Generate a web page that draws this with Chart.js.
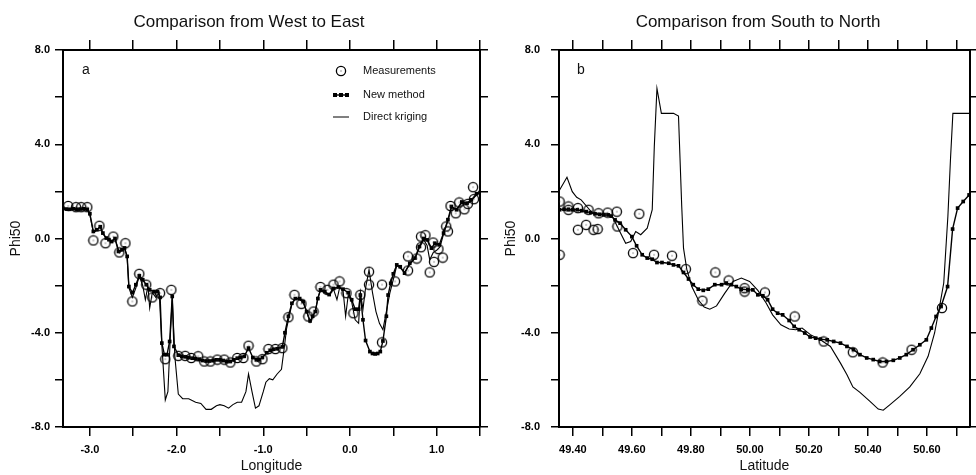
<!DOCTYPE html>
<html>
<head>
<meta charset="utf-8">
<script src="https://cdn.jsdelivr.net/npm/chart.js@4.4.1/dist/chart.umd.min.js"></script>
<style>
  body { margin: 0; background: #fff; }
  #wrap { position: relative; width: 976px; height: 475px; }
  canvas { position: absolute; top: 0; }
</style>
</head>
<body>
<div id="wrap">
  <canvas id="chartA" width="490" height="475" style="left:0"></canvas>
  <canvas id="chartB" width="486" height="475" style="left:490px"></canvas>
</div>
<script>
// ---- panel a : West to East ----
const lonTicks = [-3.0, -2.5, -2.0, -1.5, -1.0, -0.5, 0.0, 0.5, 1.0, 1.5];
const phiTicks = [-8, -6, -4, -2, 0, 2, 4, 6, 8];

const measLonA = [
  -3.25, -3.16, -3.10, -3.03, -2.96, -2.89, -2.82, -2.73, -2.66, -2.59,
  -2.51, -2.43, -2.35, -2.28, -2.19, -2.13, -2.06, -1.98, -1.90, -1.83,
  -1.75, -1.68, -1.61, -1.53, -1.45, -1.38, -1.30, -1.23, -1.17, -1.08,
  -1.01, -0.94, -0.86, -0.78, -0.71, -0.64, -0.56, -0.48, -0.42, -0.34,
  -0.26, -0.19, -0.12, -0.04, 0.04, 0.12, 0.22, 0.22, 0.37, 0.37,
  0.52, 0.67, 0.67, 0.77, 0.82, 0.82, 0.87, 0.92, 0.96, 0.97,
  1.02, 1.07, 1.11, 1.13, 1.16, 1.22, 1.26, 1.32, 1.36, 1.42,
  1.43
];
const measValA = [
  1.38, 1.33, 1.33, 1.33, -0.08, 0.54, -0.20, 0.08, -0.59, -0.20,
  -2.67, -1.50, -1.96, -2.50, -2.32, -5.12, -2.18, -4.98, -4.98, -5.07,
  -5.00, -5.22, -5.22, -5.14, -5.14, -5.26, -5.07, -5.07, -4.55, -5.22,
  -5.12, -4.69, -4.69, -4.65, -3.34, -2.39, -2.77, -3.31, -3.10, -2.06,
  -2.18, -1.96, -1.82, -2.32, -3.17, -2.39, -1.41, -1.96, -1.96, -4.41,
  -1.82, -0.76, -1.36, -0.85, 0.08, -0.37, 0.14, -1.44, -0.17, -0.99,
  -0.45, -0.81, 0.51, 0.30, 1.38, 1.07, 1.53, 1.24, 1.47, 2.18,
  1.67
];

const newLonA = [
  -3.31, -3.27, -3.23, -3.19, -3.15, -3.11, -3.07, -3.03, -3.00, -2.96,
  -2.92, -2.88, -2.85, -2.81, -2.78, -2.75, -2.71, -2.67, -2.63, -2.60,
  -2.57, -2.55, -2.51, -2.47, -2.43, -2.39, -2.35, -2.31, -2.26, -2.22,
  -2.19, -2.17, -2.14, -2.11, -2.08, -2.05, -2.03, -1.98, -1.94, -1.90,
  -1.86, -1.82, -1.78, -1.74, -1.70, -1.66, -1.62, -1.58, -1.54, -1.50,
  -1.46, -1.42, -1.38, -1.34, -1.30, -1.26, -1.22, -1.17, -1.12, -1.08,
  -1.05, -1.01, -0.96, -0.92, -0.88, -0.84, -0.78, -0.75, -0.71, -0.67,
  -0.63, -0.58, -0.54, -0.50, -0.46, -0.43, -0.40, -0.37, -0.34, -0.29,
  -0.24, -0.19, -0.13, -0.08, -0.02, 0.02, 0.06, 0.10, 0.12, 0.15,
  0.18, 0.23, 0.26, 0.29, 0.32, 0.35, 0.38, 0.42, 0.44, 0.47,
  0.50, 0.54, 0.58, 0.63, 0.69, 0.75, 0.80, 0.85, 0.89, 0.94,
  0.98, 1.03, 1.08, 1.13, 1.17, 1.23, 1.29, 1.35, 1.40, 1.46,
  1.50
];
const newValA = [
  1.28, 1.25, 1.24, 1.26, 1.24, 1.25, 1.26, 1.24, 1.05, 0.30,
  0.37, 0.50, 0.23, 0.02, -0.05, -0.13, 0.00, -0.55, -0.48, -0.40,
  -0.76, -2.04, -2.30, -1.96, -1.58, -1.75, -1.96, -2.18, -2.25, -2.25,
  -2.50, -4.44, -4.93, -4.93, -4.37, -2.46, -4.58, -4.95, -5.00, -5.02,
  -5.05, -5.08, -5.10, -5.12, -5.18, -5.20, -5.20, -5.18, -5.15, -5.15,
  -5.18, -5.22, -5.22, -5.15, -5.08, -5.05, -5.00, -4.65, -5.05, -5.15,
  -5.15, -5.05, -4.85, -4.75, -4.70, -4.68, -4.60, -4.00, -3.30, -2.75,
  -2.55, -2.55, -2.68, -3.10, -3.50, -3.30, -3.10, -2.55, -2.18, -2.25,
  -2.38, -2.12, -2.06, -2.15, -2.30, -2.60, -3.00, -3.00, -2.40, -3.45,
  -4.33, -4.80, -4.88, -4.90, -4.88, -4.80, -4.35, -3.30, -2.40, -1.90,
  -1.50, -1.12, -1.20, -1.47, -1.05, -0.83, -0.34, 0.00, -0.06, -0.41,
  -0.20, -0.27, 0.23, 0.80, 1.36, 1.22, 1.55, 1.50, 1.64, 1.90,
  1.95
];

const krigLonA = [
  -3.31, -3.03, -3.00, -2.96, -2.92, -2.88, -2.85, -2.81, -2.75, -2.71,
  -2.66, -2.60, -2.57, -2.55, -2.51, -2.47, -2.43, -2.39, -2.36, -2.33,
  -2.31, -2.28, -2.24, -2.20, -2.17, -2.13, -2.10, -2.07, -2.05, -2.02,
  -1.98, -1.93, -1.86, -1.78, -1.72, -1.66, -1.60, -1.54, -1.50, -1.45,
  -1.40, -1.35, -1.30, -1.25, -1.20, -1.17, -1.13, -1.09, -1.05, -1.00,
  -0.97, -0.93, -0.89, -0.84, -0.79, -0.76, -0.73, -0.70, -0.67, -0.63,
  -0.58, -0.54, -0.50, -0.46, -0.43, -0.40, -0.37, -0.34, -0.29, -0.24,
  -0.19, -0.15, -0.12, -0.08, -0.05, -0.02, 0.02, 0.06, 0.10, 0.12,
  0.15, 0.18, 0.22, 0.26, 0.30, 0.34, 0.38, 0.42, 0.46, 0.50,
  0.54, 0.58, 0.63, 0.69, 0.75, 0.80, 0.85, 0.89, 0.92, 0.96,
  1.00, 1.04, 1.08, 1.13, 1.17, 1.23, 1.29, 1.35, 1.40, 1.46, 1.50
];
const krigValA = [
  1.25, 1.25, 1.00, 0.25, 0.35, 0.50, 0.20, 0.00, -0.10, 0.00,
  -0.60, -0.40, -0.80, -2.10, -2.50, -2.10, -1.60, -2.00, -2.60, -2.00,
  -2.95, -2.30, -2.50, -2.30, -4.50, -6.85, -6.50, -4.00, -2.50, -5.00,
  -6.60, -6.80, -6.80, -6.95, -7.00, -7.25, -7.25, -7.10, -7.05, -7.10,
  -7.20, -7.05, -6.95, -6.95, -6.50, -5.75, -6.50, -7.20, -7.10, -6.50,
  -6.10, -5.95, -6.00, -5.75, -5.55, -4.70, -3.80, -3.30, -2.80, -2.55,
  -2.60, -2.70, -3.10, -3.55, -3.30, -3.10, -2.50, -2.20, -2.30, -2.40,
  -2.15, -2.60, -2.10, -2.20, -3.30, -2.40, -2.70, -3.45, -3.60, -2.30,
  -3.00, -2.10, -1.33, -2.30, -3.10, -3.60, -3.87, -3.10, -2.32, -1.75,
  -1.15, -1.25, -1.45, -1.10, -0.85, -0.40, -0.05, -0.30, -0.90, -0.60,
  -0.50, -0.35, 0.20, 0.75, 1.30, 1.25, 1.50, 1.45, 1.60, 1.85, 1.95
];

// ---- panel b : South to North ----
const latTicks = [49.4, 49.5, 49.6, 49.7, 49.8, 49.9, 50.0, 50.1, 50.2, 50.3, 50.4, 50.5, 50.6, 50.7];

const measLatB = [
  49.355, 49.355, 49.385, 49.385, 49.417, 49.417, 49.445, 49.453, 49.470, 49.484,
  49.487, 49.518, 49.549, 49.551, 49.604, 49.625, 49.675, 49.736, 49.783, 49.839,
  49.883, 49.928, 49.982, 49.982, 50.051, 50.152, 50.250, 50.349, 50.450, 50.548,
  50.651
];
const measValB = [
  1.57, -0.69, 1.36, 1.22, 1.29, 0.37, 0.58, 1.22, 0.37, 0.40,
  1.07, 1.10, 1.14, 0.51, -0.62, 1.05, -0.69, -0.73, -1.30, -2.64,
  -1.44, -1.78, -2.11, -2.25, -2.29, -3.31, -4.37, -4.83, -5.26, -4.72,
  -2.95
];

const newLatB = [
  49.355, 49.370, 49.385, 49.400, 49.415, 49.430, 49.445, 49.460, 49.475, 49.490,
  49.505, 49.520, 49.530, 49.543, 49.560, 49.579, 49.600, 49.616, 49.635, 49.652,
  49.669, 49.685, 49.702, 49.725, 49.741, 49.758, 49.775, 49.792, 49.808, 49.825,
  49.842, 49.859, 49.881, 49.904, 49.920, 49.937, 49.954, 49.971, 49.993, 50.010,
  50.027, 50.044, 50.060, 50.077, 50.094, 50.111, 50.133, 50.150, 50.167, 50.186,
  50.204, 50.223, 50.239, 50.262, 50.284, 50.307, 50.329, 50.351, 50.373, 50.396,
  50.418, 50.440, 50.463, 50.486, 50.508, 50.530, 50.553, 50.576, 50.598, 50.615,
  50.631, 50.648, 50.670, 50.687, 50.704, 50.723, 50.743
];
const newValB = [
  1.22, 1.24, 1.24, 1.22, 1.22, 1.18, 1.14, 1.10, 1.05, 1.02,
  1.00, 1.00, 0.95, 0.79, 0.65, 0.37, 0.08, -0.31, -0.69, -0.83,
  -0.88, -1.02, -1.02, -1.05, -1.12, -1.16, -1.44, -1.72, -1.96, -2.15,
  -2.20, -2.15, -1.96, -1.96, -1.89, -1.96, -2.04, -2.15, -2.18, -2.18,
  -2.39, -2.43, -2.60, -3.00, -3.17, -3.24, -3.48, -3.73, -3.87, -4.01,
  -4.18, -4.23, -4.27, -4.30, -4.37, -4.44, -4.58, -4.72, -4.93, -5.07,
  -5.14, -5.22, -5.22, -5.17, -5.07, -4.93, -4.72, -4.51, -4.30, -3.80,
  -3.31, -2.88, -2.04, 0.40, 1.29, 1.57, 1.85
];

const krigLatB = [
  49.355, 49.380, 49.398, 49.413, 49.428, 49.467, 49.518, 49.534, 49.556, 49.579,
  49.596, 49.613, 49.630, 49.652, 49.669, 49.676, 49.685, 49.700, 49.741, 49.758,
  49.769, 49.775, 49.786, 49.803, 49.825, 49.845, 49.864, 49.887, 49.915, 49.943,
  49.971, 49.999, 50.027, 50.055, 50.077, 50.105, 50.133, 50.155, 50.177, 50.205,
  50.239, 50.273, 50.307, 50.329, 50.349, 50.373, 50.407, 50.435, 50.452, 50.475,
  50.508, 50.542, 50.576, 50.604, 50.626, 50.643, 50.657, 50.671, 50.680, 50.688,
  50.746
];
const krigValB = [
  2.06, 2.60, 1.99, 1.75, 1.64, 1.07, 1.07, 0.93, 0.37, -0.20,
  -0.13, 0.30, 0.16, 0.44, 1.22, 3.90, 6.37, 5.31, 5.31, 5.20,
  1.36, -0.41, -1.30, -2.04, -2.60, -2.91, -3.00, -2.86, -2.32, -1.82,
  -1.68, -1.82, -2.20, -2.74, -3.24, -3.66, -3.84, -3.87, -3.80, -4.08,
  -4.30, -4.58, -5.29, -5.78, -6.30, -6.53, -6.91, -7.24, -7.29, -7.05,
  -6.70, -6.30, -5.74, -5.00, -4.01, -2.88, -1.89, 0.93, 3.41, 5.31,
  5.31
];

const pair = (xs, ys) => xs.map((x, i) => ({ x: x, y: ys[i] }));

// open circle with a small dot in the middle, used for the measurements
const ring = document.createElement('canvas');
ring.width = 12; ring.height = 12;
(function () {
  const c = ring.getContext('2d');
  c.strokeStyle = '#000';
  c.lineWidth = 1.3;
  c.beginPath();
  c.arc(6, 6, 4.6, 0, Math.PI * 2);
  c.stroke();
  c.fillStyle = '#333';
  c.fillRect(5.5, 5.5, 1, 1);
})();

const tickFont = { family: 'Liberation Sans', size: 11, weight: 'bold' };
const axisTitleFont = { family: 'Liberation Sans', size: 14 };

// text drawn on top: panel title, panel letter and (panel a) the legend
function decorPlugin(o) {
  return {
    id: 'decor',
    afterDraw(chart) {
      const ctx = chart.ctx;
      ctx.save();
      ctx.fillStyle = '#111';
      ctx.textBaseline = 'middle';
      ctx.textAlign = 'center';
      ctx.font = '17px "Liberation Sans"';
      ctx.fillText(o.title, o.titleX, 22);
      ctx.textAlign = 'left';
      ctx.font = '14px "Liberation Sans"';
      ctx.fillText(o.letter, o.letterX, 70);
      if (o.legend) {
        ctx.font = '11px "Liberation Sans"';
        ctx.drawImage(ring, 335, 65);
        ctx.fillText('Measurements', 363, 71);
        ctx.strokeStyle = '#000';
        ctx.lineWidth = 1.4;
        ctx.beginPath(); ctx.moveTo(333, 95); ctx.lineTo(349, 95); ctx.stroke();
        ctx.fillStyle = '#000';
        ctx.fillRect(333, 93, 4, 4); ctx.fillRect(339, 93, 4, 4); ctx.fillRect(345, 93, 4, 4);
        ctx.fillStyle = '#111';
        ctx.fillText('New method', 363, 95);
        ctx.lineWidth = 1;
        ctx.beginPath(); ctx.moveTo(333, 117); ctx.lineTo(349, 117); ctx.stroke();
        ctx.fillText('Direct kriging', 363, 117);
      }
      ctx.restore();
    }
  };
}

function frameAxis(pos, min, max, ticks, size, len, labels, extra) {
  const a = {
    type: 'linear',
    position: pos,
    min: min,
    max: max,
    afterBuildTicks: s => { s.ticks = ticks.map(v => ({ value: v })); },
    afterFit: s => {
      if (pos === 'left' || pos === 'right') s.width = size; else s.height = size;
    },
    border: { display: true, color: '#000', width: 2 },
    grid: { drawOnChartArea: false, drawTicks: true, tickLength: len, color: '#000', lineWidth: 1.5 },
    ticks: labels ? Object.assign({ autoSkip: false, maxRotation: 0, color: '#000', font: tickFont }, labels)
                  : { display: false, autoSkip: false }
  };
  return Object.assign(a, extra || {});
}

function makeChart(id, o) {
  return new Chart(document.getElementById(id), {
    type: 'line',
    data: {
      datasets: [
        {
          label: 'Measurements',
          data: o.meas,
          showLine: false,
          pointStyle: ring,
          pointRadius: 5,
          order: 0
        },
        {
          label: 'New method',
          data: o.newm,
          borderColor: '#000',
          borderWidth: 1.4,
          pointStyle: 'rect',
          pointRadius: 2.6,
          pointBackgroundColor: '#000',
          pointBorderWidth: 0,
          order: 1
        },
        {
          label: 'Direct kriging',
          data: o.krig,
          borderColor: '#000',
          borderWidth: 1.1,
          pointRadius: 0,
          order: 2
        }
      ]
    },
    options: {
      responsive: false,
      animation: false,
      events: [],
      layout: { padding: 0 },
      plugins: { legend: { display: false }, tooltip: { enabled: false } },
      scales: {
        x: frameAxis('bottom', o.xMin, o.xMax, o.xTicks, 48, 9,
          { padding: 7, callback: o.xLabel },
          { title: { display: true, text: o.xTitle, color: '#111', font: axisTitleFont, padding: 0 } }),
        xTop: frameAxis('top', o.xMin, o.xMax, o.xTicks, 50, 10, null),
        y: frameAxis('left', -8, 8, phiTicks, o.leftW, 8,
          { padding: o.yPad, callback: v => (v % 4 === 0 ? v.toFixed(1) : '') },
          { title: { display: true, text: 'Phi50', color: '#111', font: axisTitleFont, padding: { top: o.yTitlePad, bottom: 0 } } }),
        yRight: frameAxis('right', -8, 8, phiTicks, o.rightW, 8, null)
      }
    },
    plugins: [decorPlugin(o)]
  });
}

makeChart('chartA', {
  meas: pair(measLonA, measValA),
  newm: pair(newLonA, newValA),
  krig: pair(krigLonA, krigValA),
  xMin: -3.31, xMax: 1.5, xTicks: lonTicks,
  xLabel: v => (Math.abs(v - Math.round(v)) < 1e-6 ? v.toFixed(1) : ''),
  xTitle: 'Longitude',
  leftW: 63, rightW: 10, yPad: 5, yTitlePad: 8,
  title: 'Comparison from West to East', titleX: 249,
  letter: 'a', letterX: 82, legend: true
});

makeChart('chartB', {
  meas: pair(measLatB, measValB),
  newm: pair(newLatB, newValB),
  krig: pair(krigLatB, krigValB),
  xMin: 49.353, xMax: 50.746, xTicks: latTicks,
  xLabel: v => (Math.round(v * 10) % 2 === 0 ? v.toFixed(2) : ''),
  xTitle: 'Latitude',
  leftW: 69, rightW: 2, yPad: 11, yTitlePad: 13,
  title: 'Comparison from South to North', titleX: 268,
  letter: 'b', letterX: 87, legend: false
});
</script>
</body>
</html>
